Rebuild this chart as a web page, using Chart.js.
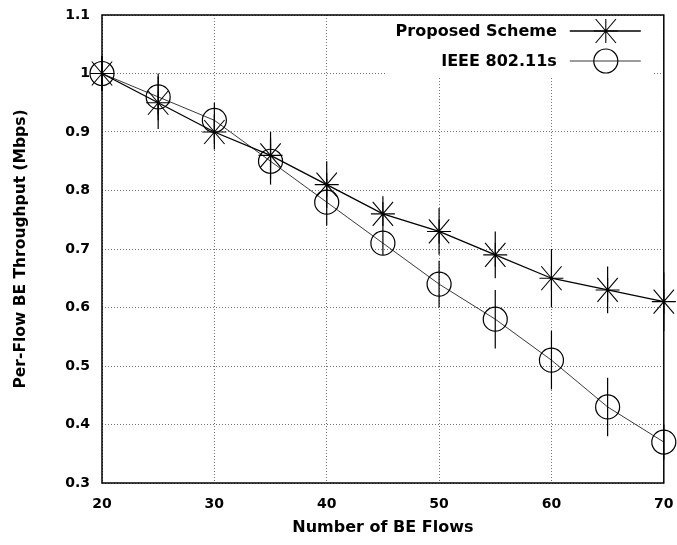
<!DOCTYPE html>
<html>
<head>
<meta charset="utf-8">
<script src="https://cdn.jsdelivr.net/npm/chart.js@4.4.1/dist/chart.umd.min.js"></script>
<style>
html, body { margin: 0; padding: 0; background: #fff; }
#wrap { width: 677px; height: 545px; }
</style>
</head>
<body>
<div id="wrap"><canvas id="beChart" width="677" height="545"></canvas></div>
<script>
const flows = [20, 25, 30, 35, 40, 45, 50, 55, 60, 65, 70];
const proposedThroughput = [1.0, 0.95, 0.90, 0.86, 0.81, 0.76, 0.73, 0.69, 0.65, 0.63, 0.61];
const proposedError = [0.03, 0.045, 0.03, 0.04, 0.04, 0.03, 0.04, 0.04, 0.05, 0.04, 0.05];
const ieeeThroughput = [1.0, 0.96, 0.92, 0.85, 0.78, 0.71, 0.64, 0.58, 0.51, 0.43, 0.37];
const ieeeError = [0.03, 0.04, 0.03, 0.04, 0.04, 0.02, 0.04, 0.05, 0.05, 0.05, 0.03];
const xTicks = [20, 30, 40, 50, 60, 70];
const yTicks = [0.3, 0.4, 0.5, 0.6, 0.7, 0.8, 0.9, 1.0, 1.1];
const seriesNames = ["Proposed Scheme", "IEEE 802.11s"];

const boldFont = (size) => ({ family: "'DejaVu Sans', sans-serif", weight: "bold", size: size });

// gnuplot style asterisk, diagonals go out to the corners
function drawStar(ctx, x, y, r) {
    ctx.beginPath();
    ctx.moveTo(x - r, y); ctx.lineTo(x + r, y);
    ctx.moveTo(x, y - r); ctx.lineTo(x, y + r);
    ctx.moveTo(x - r * 0.85, y - r); ctx.lineTo(x + r * 0.85, y + r);
    ctx.moveTo(x - r * 0.85, y + r); ctx.lineTo(x + r * 0.85, y - r);
    ctx.stroke();
}

const errors = [proposedError, ieeeError];

const errorBars = {
    id: "errorBars",
    afterDatasetsDraw(chart) {
        const { ctx, scales: { x, y } } = chart;
        ctx.save();
        ctx.strokeStyle = "#000";
        ctx.lineWidth = 1.2;
        chart.data.datasets.forEach((ds, d) => {
            errors[d].forEach((e, i) => {
                const px = x.getPixelForValue(ds.data[i].x);
                const v = ds.data[i].y;
                ctx.beginPath();
                ctx.moveTo(px, y.getPixelForValue(v + e));
                ctx.lineTo(px, y.getPixelForValue(v - e));
                ctx.stroke();
            });
        });
        // star marks for the proposed scheme
        const ds0 = chart.data.datasets[0];
        ctx.lineWidth = 1.1;
        ds0.data.forEach(p => {
            drawStar(ctx, x.getPixelForValue(p.x), y.getPixelForValue(p.y), 12);
        });
        ctx.restore();
    }
};

const frameAndKey = {
    id: "frameAndKey",
    beforeDatasetsDraw(chart) {
        const { ctx, chartArea: a } = chart;
        ctx.save();
        // white box behind the key
        ctx.fillStyle = "#fff";
        ctx.fillRect(a.right - 278, a.top + 1, 268, 62);
        ctx.strokeStyle = "#000";
        ctx.lineWidth = 1.5;
        ctx.strokeRect(a.left, a.top, a.width, a.height);
        ctx.restore();
    },
    afterDatasetsDraw(chart) {
        const { ctx, chartArea: a } = chart;
        ctx.save();
        ctx.font = "bold 16px 'DejaVu Sans', sans-serif";
        ctx.fillStyle = "#000";
        ctx.textAlign = "right";
        ctx.textBaseline = "middle";
        const rows = [a.top + 16, a.top + 46];
        chart.data.datasets.forEach((ds, d) => {
            const ty = rows[d];
            ctx.fillText(ds.label, a.right - 107, ty + 1);
            ctx.strokeStyle = ds.borderColor;
            ctx.lineWidth = ds.borderWidth;
            ctx.beginPath();
            ctx.moveTo(a.right - 94, ty);
            ctx.lineTo(a.right - 23, ty);
            ctx.stroke();
            const mx = a.right - 58;
            ctx.strokeStyle = "#000";
            if (d === 0) {
                ctx.lineWidth = 1.1;
                drawStar(ctx, mx, ty, 12);
            } else {
                ctx.lineWidth = 1.2;
                ctx.beginPath();
                ctx.arc(mx, ty, 12, 0, Math.PI * 2);
                ctx.stroke();
            }
        });
        ctx.restore();
    }
};

const ctx = document.getElementById("beChart").getContext("2d");
const beChart = new Chart(ctx, {
    type: "line",
    data: {
        datasets: [{
            label: seriesNames[0],
            data: flows.map((f, i) => ({ x: f, y: proposedThroughput[i] })),
            borderColor: "#000",
            borderWidth: 1.3,
            pointRadius: 0,
            pointHoverRadius: 0,
            clip: false,
        }, {
            label: seriesNames[1],
            data: flows.map((f, i) => ({ x: f, y: ieeeThroughput[i] })),
            borderColor: "#222",
            borderWidth: 0.9,
            pointStyle: "circle",
            pointRadius: 12,
            pointHoverRadius: 12,
            pointBackgroundColor: "rgba(0,0,0,0)",
            pointBorderColor: "#000",
            pointBorderWidth: 1.2,
            clip: false,
        }],
    },
    options: {
        responsive: false,
        animation: false,
        events: [],
        layout: { padding: { top: 15, right: 12, left: 0, bottom: 0 } },
        plugins: {
            legend: { display: false },
            tooltip: { enabled: false },
        },
        scales: {
            x: {
                type: "linear",
                min: 20,
                max: 70,
                afterBuildTicks: (s) => { s.ticks = xTicks.map(v => ({ value: v })); },
                afterFit: (s) => {
                    s.height = 62;
                    s.paddingLeft = 0;
                    s.paddingRight = 0;
                },
                grid: { color: "rgba(0,0,0,0.55)", lineWidth: 1, drawTicks: false },
                border: { display: false, dash: [1, 2] },
                ticks: { color: "#000", font: boldFont(14), padding: 13, maxRotation: 0 },
                title: {
                    display: true,
                    text: "Number of BE Flows",
                    color: "#000",
                    font: boldFont(16),
                    padding: { top: 0, bottom: 8 },
                },
            },
            y: {
                min: 0.3,
                max: 1.1,
                afterBuildTicks: (s) => { s.ticks = yTicks.map(v => ({ value: v })); },
                afterFit: (s) => {
                    s.width = 102;
                    s.paddingTop = 0;
                    s.paddingBottom = 0;
                },
                grid: { color: "rgba(0,0,0,0.55)", lineWidth: 1, drawTicks: false },
                border: { display: false, dash: [1, 2] },
                ticks: {
                    color: "#000",
                    font: boldFont(14),
                    padding: 12,
                    callback: (v) => String(Number(v.toFixed(1))),
                },
                title: {
                    display: true,
                    text: "Per-Flow BE Throughput (Mbps)",
                    color: "#000",
                    font: boldFont(15.5),
                    padding: { top: 12, bottom: 0 },
                },
            },
        },
    },
    plugins: [frameAndKey, errorBars],
});
</script>
</body>
</html>
